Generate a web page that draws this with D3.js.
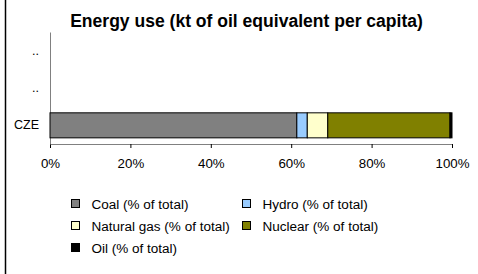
<!DOCTYPE html>
<html><head><meta charset="utf-8">
<script src="https://cdn.jsdelivr.net/npm/d3@7"></script>
<style>body{margin:0;background:#fff;}svg{display:block;font-family:"Liberation Sans",Arial,sans-serif;}</style>
</head><body>
<svg id="c" width="478" height="274"></svg>
<script>
const title = "Energy use (kt of oil equivalent per capita)";
const categories = ["..", "..", "CZE"];
const seriesNames = ["Coal (% of total)", "Hydro (% of total)", "Natural gas (% of total)", "Nuclear (% of total)", "Oil (% of total)"];
const seriesColors = ["#808080", "#99ccff", "#ffffcc", "#808000", "#000000"];
const coal = [null, null, 61.4];
const hydro = [null, null, 2.6];
const naturalGas = [null, null, 5.1];
const nuclear = [null, null, 30.4];
const oil = [null, null, 0.5];
const xTicks = [0, 20, 40, 60, 80, 100];

const series = [coal, hydro, naturalGas, nuclear, oil];
const svg = d3.select("#c");
const FF = "'Liberation Sans',Arial,sans-serif";

function fit(sel, target) {
  const w = sel.node().getComputedTextLength();
  const fs = parseFloat(sel.attr("font-size"));
  sel.attr("font-size", (fs * target / w).toFixed(2) + "px");
}

// frame left line
svg.append("line").attr("x1",5.5).attr("x2",5.5).attr("y1",0).attr("y2",274).attr("stroke","#000").attr("stroke-width",1.5);

const t = svg.append("text").attr("x",246.5).attr("y",27).attr("text-anchor","middle")
  .attr("font-weight","bold").attr("font-size","16px").text(title);
fit(t, 353);

const x = d3.scaleLinear().domain([0,100]).range([50,452]);
const y = d3.scaleBand().domain(categories.map((c,i)=>i)).range([32,144]).paddingInner(0.33).paddingOuter(0.165);

// x axis
const xAxis = d3.axisBottom(x).tickValues(xTicks).tickFormat(d=>d+"%").tickSize(4).tickSizeOuter(0);
const gx = svg.append("g").attr("transform","translate(0,144)").call(xAxis);
gx.select(".domain").attr("stroke","#808080");
gx.selectAll(".tick line").attr("stroke","#000");
gx.selectAll(".tick text").attr("font-size","13px").attr("fill","#000").attr("font-family",FF).attr("dy","1.25em");
fit(gx.select(".tick:last-of-type text"), 34);
const tfs = gx.select(".tick:last-of-type text").attr("font-size");
gx.selectAll(".tick text").attr("font-size", tfs);

// y axis
const yAxis = d3.axisLeft(y).tickFormat(i=>categories[i]).tickSize(0).tickPadding(11);
const gy = svg.append("g").attr("transform","translate(50,0)").call(yAxis);
gy.select(".domain").attr("stroke","#808080");
gy.selectAll(".tick text").attr("font-size","12.5px").attr("fill","#000").attr("font-family",FF);

// bars
categories.forEach((c,i)=>{
  let acc = 0;
  series.forEach((s,k)=>{
    const v = s[i];
    if (v==null) return;
    svg.append("rect").attr("x",x(acc)).attr("y",y(i)).attr("width",x(acc+v)-x(acc)).attr("height",y.bandwidth())
      .attr("fill",seriesColors[k]).attr("stroke","#000").attr("stroke-width",1);
    acc += v;
  });
});

// legend
const legPos = [[71,204],[242,204],[71,226],[242,226],[71,248]];
const legTexts = [];
seriesNames.forEach((n,k)=>{
  const [lx,ly] = legPos[k];
  svg.append("rect").attr("x",lx+0.5).attr("y",ly-4.5).attr("width",8).attr("height",8)
    .attr("fill",seriesColors[k]).attr("stroke","#000").attr("stroke-width",1);
  legTexts.push(svg.append("text").attr("x",lx+20.5).attr("y",ly+5).attr("font-size","13px").text(n));
});
fit(legTexts[0], 97);
const lfs = legTexts[0].attr("font-size");
legTexts.forEach(s=>s.attr("font-size", lfs));
</script>
</body></html>
